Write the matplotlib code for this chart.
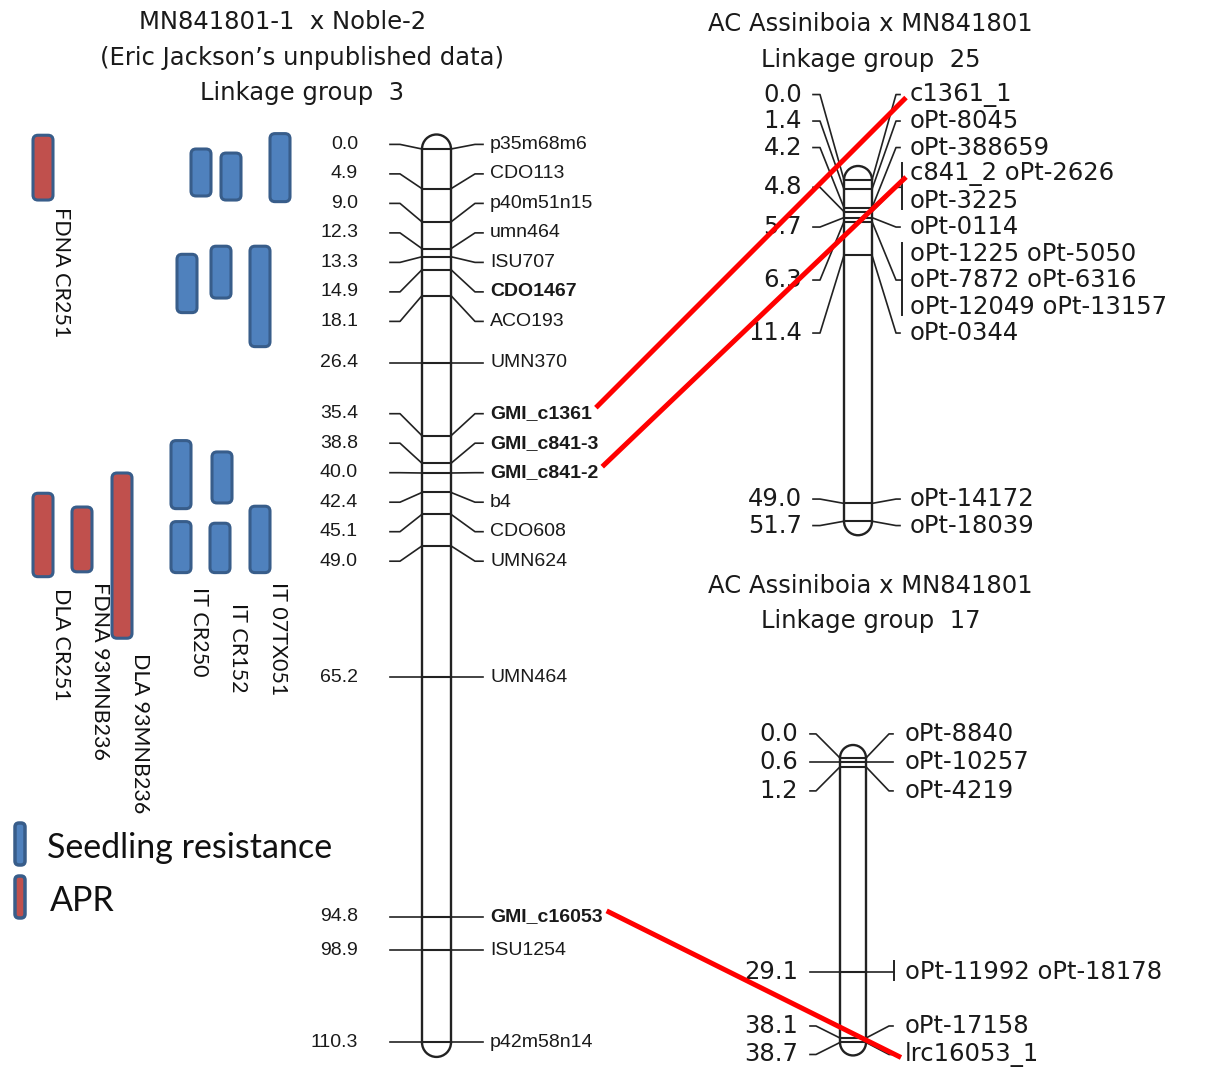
import matplotlib
matplotlib.use("Agg")
import matplotlib.pyplot as plt
from matplotlib.patches import FancyBboxPatch, Arc
import numpy as np

W, H = 1208, 1072

# MN841801-1 x Noble-2, linkage group 3 (cM)
lg3_cm = [0.0, 4.9, 9.0, 12.3, 13.3, 14.9, 18.1, 26.4, 35.4, 38.8, 40.0,
          42.4, 45.1, 49.0, 65.2, 94.8, 98.9, 110.3]
lg3_names = [["p35m68m6"], ["CDO113"], ["p40m51n15"], ["umn464"], ["ISU707"],
             ["CDO1467"], ["ACO193"], ["UMN370"], ["GMI_c1361"], ["GMI_c841-3"],
             ["GMI_c841-2"], ["b4"], ["CDO608"], ["UMN624"], ["UMN464"],
             ["GMI_c16053"], ["ISU1254"], ["p42m58n14"]]
lg3_bold = ["CDO1467", "GMI_c1361", "GMI_c841-3", "GMI_c841-2", "GMI_c16053"]

# AC Assiniboia x MN841801, linkage group 25 (cM)
lg25_cm = [0.0, 1.4, 4.2, 4.8, 5.7, 6.3, 11.4, 49.0, 51.7]
lg25_names = [["c1361_1"], ["oPt-8045"], ["oPt-388659"],
              ["c841_2", "oPt-2626", "oPt-3225"], ["oPt-0114"],
              ["oPt-1225", "oPt-5050", "oPt-7872", "oPt-6316", "oPt-12049", "oPt-13157"],
              ["oPt-0344"], ["oPt-14172"], ["oPt-18039"]]

# AC Assiniboia x MN841801, linkage group 17 (cM)
lg17_cm = [0.0, 0.6, 1.2, 29.1, 38.1, 38.7]
lg17_names = [["oPt-8840"], ["oPt-10257"], ["oPt-4219"],
              ["oPt-11992", "oPt-18178"], ["oPt-17158"], ["lrc16053_1"]]

# QTL intervals placed against the linkage group 3 scale (cM)
qtl_label = ["FDNA CR251", "", "", "", "", "", "",
             "DLA CR251", "FDNA 93MNB236", "DLA 93MNB236",
             "", "", "IT CR250", "IT CR152", "IT 07TX051"]
qtl_kind = ["APR", "Seedling", "Seedling", "Seedling", "Seedling", "Seedling", "Seedling",
            "APR", "APR", "APR",
            "Seedling", "Seedling", "Seedling", "Seedling", "Seedling"]
qtl_start = [-1.7, 0.0, 0.5, -1.9, 13.0, 12.0, 12.0, 42.5, 44.2, 40.0, 36.0, 37.4, 46.0, 46.2, 44.1]
qtl_end = [6.3, 5.8, 6.3, 6.5, 20.2, 18.4, 24.4, 52.8, 52.2, 60.4, 44.4, 43.7, 52.3, 52.3, 52.3]

# shared markers between the two crosses
links = [("GMI_c1361", "c1361_1"), ("GMI_c841-2", "c841_2"), ("GMI_c16053", "lrc16053_1")]

# ---- layout -----------------------------------------------------------------
qtl_x = [43, 201, 231, 280, 187, 221, 260, 43, 82, 122, 181, 222, 181, 220, 260]
qtl_label_drop = [7, 0, 0, 0, 0, 0, 0, 11, 10, 15, 0, 0, 14, 30, 9]
KIND_COLOR = {"APR": "#c0504d", "Seedling": "#4f81bd"}
EDGE = "#385d8a"
INK = "#1a1a1a"
LINE = "#222222"

fig = plt.figure(figsize=(W / 100, H / 100), dpi=100)
ax = fig.add_axes([0, 0, 1, 1])
ax.set_xlim(0, W)
ax.set_ylim(H, 0)
ax.axis("off")
renderer = fig.canvas.get_renderer()


def spread(targets, gap):
    """Push label rows apart so neighbours are at least `gap` apart."""
    groups = [[t] for t in targets]
    while True:
        starts = [np.mean(g) - (len(g) - 1) * gap / 2 for g in groups]
        for i in range(len(groups) - 1):
            end_i = starts[i] + (len(groups[i]) - 1) * gap
            if starts[i + 1] - end_i < gap - 1e-9:
                groups[i] = groups[i] + groups.pop(i + 1)
                break
        else:
            break
    out = []
    for s, g in zip(starts, groups):
        out += [s + k * gap for k in range(len(g))]
    return out


def draw_map(cm, names, x, w, top, scale, gap, num_right, lead_l, lead_r,
             text_x, family, size, bold=(), bracket_x=None):
    ys = [top + c * scale for c in cm]
    rows = []
    for i, grp in enumerate(names):
        for j in range(0, len(grp), 2):
            rows.append((ys[i], i, " ".join(grp[j:j + 2])))
    row_y = spread([r[0] for r in rows], gap)

    lw = 1.7
    bottom = ys[-1]
    r = w / 2
    ax.plot([x, x], [top, bottom], color=LINE, lw=lw)
    ax.plot([x + w, x + w], [top, bottom], color=LINE, lw=lw)
    ax.add_patch(Arc((x + r, top), w, w, theta1=180, theta2=360, color=LINE, lw=lw))
    ax.add_patch(Arc((x + r, bottom), w, w, theta1=0, theta2=180, color=LINE, lw=lw))

    anchors = {}
    for i, y in enumerate(ys):
        ax.plot([x, x + w], [y, y], color=LINE, lw=1.5)
        mine = [(ry, t) for (ty, k, t), ry in zip(rows, row_y) if k == i]
        c = np.mean([m[0] for m in mine])
        ax.text(num_right, c, f"{cm[i]:.1f}", ha="right", va="center",
                family=family, size=size, color=INK)
        ax.plot([lead_l[0], lead_l[1], x], [c, c, y], color=LINE, lw=1.2)
        if len(names[i]) > 1:
            ax.plot([x + w, lead_r[0], bracket_x], [y, c, c], color=LINE, lw=1.2)
            ax.plot([bracket_x, bracket_x], [mine[0][0] - 11, mine[-1][0] + 8],
                    color=LINE, lw=1.4)
        for ry, t in mine:
            if len(names[i]) == 1:
                ax.plot([x + w, lead_r[0], lead_r[1]], [y, ry, ry], color=LINE, lw=1.2)
            weight = "bold" if t in bold else "normal"
            txt = ax.text(text_x, ry, t, ha="left", va="center", family=family,
                          size=size, color=INK, weight=weight)
            bb = txt.get_window_extent(renderer).transformed(ax.transData.inverted())
            for nm in t.split(" "):
                anchors[nm] = (min(bb.x0, bb.x1), max(bb.x0, bb.x1), ry)
    return anchors


LEFT_FONT = "Liberation Sans"
RIGHT_FONT = "DejaVu Sans"

a3 = draw_map(lg3_cm, lg3_names, x=422, w=29, top=149, scale=8.1, gap=29.5,
              num_right=358, lead_l=(390, 400), lead_r=(475, 483), text_x=490,
              family=LEFT_FONT, size=14, bold=lg3_bold)
a25 = draw_map(lg25_cm, lg25_names, x=844, w=28, top=180, scale=6.6, gap=26.5,
               num_right=802, lead_l=(813, 820), lead_r=(896, 900), text_x=910,
               family=RIGHT_FONT, size=17.5, bracket_x=902)
a17 = draw_map(lg17_cm, lg17_names, x=840, w=26, top=758, scale=7.35, gap=28.5,
               num_right=798, lead_l=(810, 816), lead_r=(889, 893), text_x=905,
               family=RIGHT_FONT, size=17.5, bracket_x=894)

# titles
title_kw = dict(ha="center", va="center", family=RIGHT_FONT, size=17.5, color=INK)
ax.text(283, 22, "MN841801-1  x Noble-2", **title_kw)
ax.text(302, 58, "(Eric Jackson\u2019s unpublished data)", **title_kw)
ax.text(302, 93, "Linkage group  3", **title_kw)
ax.text(870, 24, "AC Assiniboia x MN841801", **title_kw)
ax.text(871, 60, "Linkage group  25", **title_kw)
ax.text(870, 586, "AC Assiniboia x MN841801", **title_kw)
ax.text(871, 621, "Linkage group  17", **title_kw)

# red connectors between shared markers
right_anchors = {**a25, **a17}
for left_name, right_name in links:
    lx0, lx1, ly = a3[left_name]
    rx0, rx1, ry = right_anchors[right_name]
    ax.plot([lx1 + 4, rx0 - 4], [ly - 6, ry + 3], color="#ff0000", lw=3.6,
            solid_capstyle="butt", zorder=5)

# QTL bars on linkage group 3 scale
for lab, kind, s, e, xc, drop in zip(qtl_label, qtl_kind, qtl_start, qtl_end,
                                     qtl_x, qtl_label_drop):
    y1 = 149 + s * 8.1
    y2 = 149 + e * 8.1
    ax.add_patch(FancyBboxPatch((xc - 10, y1), 20, y2 - y1,
                                boxstyle="round,pad=0,rounding_size=5",
                                fc=KIND_COLOR[kind], ec=EDGE, lw=2.2))
    if lab:
        ax.text(xc + 18, y2 + drop, lab, rotation=270, ha="center", va="top",
                family="Lato", size=15.5, color="#111111")

# legend
for yc, kind, lab, tx in [(844, "Seedling", "Seedling resistance", 47),
                          (897, "APR", "APR", 50)]:
    ax.add_patch(FancyBboxPatch((15, yc - 21), 10, 42,
                                boxstyle="round,pad=0,rounding_size=4",
                                fc=KIND_COLOR[kind], ec=EDGE, lw=2.5))
    ax.text(tx, yc + 4, lab, ha="left", va="center", family="Lato",
            size=24.5, color="#111111")

fig.savefig("out.png", dpi=100)
